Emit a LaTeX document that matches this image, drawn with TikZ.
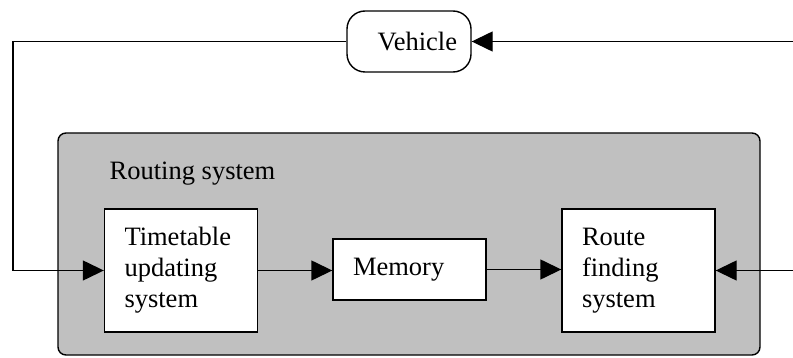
\documentclass[tikz,border=0pt]{standalone}
\usepackage{fontspec}
\setmainfont{Liberation Serif}
\usetikzlibrary{arrows.meta}
\begin{document}
\begin{tikzpicture}[x=1pt,y=1pt,
  line width=1.4pt,
  every node/.style={font=\fontsize{26.5}{31}\selectfont},
  unit/.style={draw, fill=white, rectangle, inner xsep=20pt, inner ysep=0pt,
               text width=113pt, align=left, minimum height=#1},
  unit/.default=123pt,
  flow/.style={-{Triangle[length=21pt,width=20pt]}}
]
\useasboundingbox (0,0) rectangle (793,-358);

% routing system container
\node[draw, fill={rgb,255:red,192;green,192;blue,192}, rounded corners=8pt,
      minimum width=702pt, minimum height=222pt, inner sep=0pt]
      (routing) at (409,-244) {};
\node[anchor=base west, inner sep=0pt] (rlabel) at (109,-180) {Routing system};

% inner units
\node[unit] (tt) at (181,-270.5) {Timetable\\updating\\system};
\node[unit=61pt] (mem) at (409.5,-269.5) {Memory};
\node[unit] (rf) at (638.5,-270.5) {Route\\finding\\system};

% vehicle
\node[draw, rounded corners=18pt, minimum width=124pt, minimum height=61pt,
      inner xsep=14pt, text width=96pt, align=right] (veh) at (409,-41.5) {Vehicle};

% feedback path endpoints
\coordinate (rtop) at (793,-41.5);
\coordinate (rbot) at (793,-270.5);
\coordinate (lcorner) at (13,-41.5);

\draw[flow] (rtop) -- (veh.east);
\draw[flow] (veh.west) -- (lcorner) |- (tt.west);
\draw[flow] (tt.east) -- (tt.east -| mem.west);
\draw[flow] (mem.east) -- (mem.east -| rf.west);
\draw[flow] (rbot) -- (rf.east);
\end{tikzpicture}
\end{document}
